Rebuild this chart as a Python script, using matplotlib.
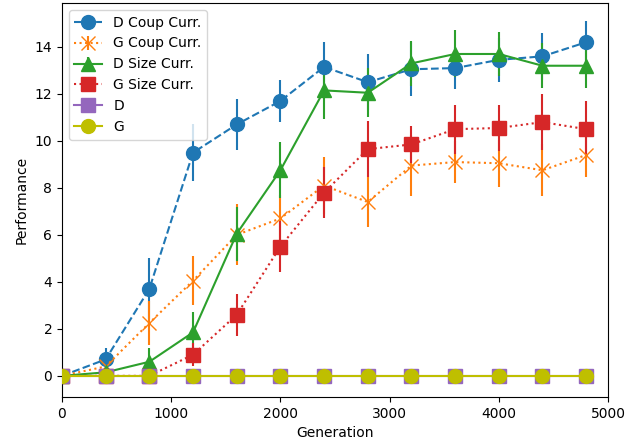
import matplotlib
matplotlib.use("Agg")
import matplotlib.pyplot as plt

generations = [0, 400, 800, 1200, 1600, 2000, 2400, 2800, 3200, 3600, 4000, 4400, 4800]

d_coup = [0.0, 0.7, 3.7, 9.5, 10.7, 11.7, 13.15, 12.5, 13.05, 13.1, 13.45, 13.6, 14.2]
d_coup_err = [0.1, 0.5, 1.3, 1.2, 1.1, 0.9, 1.05, 1.2, 1.15, 0.9, 0.95, 1.0, 0.9]

g_coup = [0.0, 0.4, 2.25, 4.05, 6.0, 6.7, 8.1, 7.4, 8.95, 9.1, 9.05, 8.75, 9.4]
g_coup_err = [0.1, 0.4, 0.95, 1.05, 1.3, 1.0, 1.2, 1.05, 1.3, 0.9, 1.0, 1.1, 0.95]

d_size = [0.0, 0.15, 0.6, 1.85, 6.05, 8.75, 12.15, 12.05, 13.3, 13.7, 13.7, 13.2, 13.2]
d_size_err = [0.05, 0.15, 0.6, 0.85, 1.15, 1.2, 1.2, 1.05, 0.95, 1.0, 0.95, 0.95, 0.95]

g_size = [0.0, 0.0, 0.0, 0.9, 2.6, 5.5, 7.8, 9.65, 9.85, 10.5, 10.55, 10.8, 10.5]
g_size_err = [0.0, 0.0, 0.0, 0.5, 0.9, 1.1, 1.1, 1.2, 0.8, 1.05, 1.0, 1.2, 1.2]

d_base = [0.0] * len(generations)
g_base = [0.0] * len(generations)

fig, ax = plt.subplots(figsize=(6.41, 4.42), dpi=100)
fig.subplots_adjust(left=0.0967, right=0.9485, bottom=0.1018, top=0.9932)

h1 = ax.errorbar(generations, d_coup, yerr=d_coup_err, color='C0', marker='o',
                 linestyle='--', markersize=10, label='D Coup Curr.')
h2 = ax.errorbar(generations, g_coup, yerr=g_coup_err, color='C1', marker='x',
                 linestyle=':', markersize=10, label='G Coup Curr.')
h3 = ax.errorbar(generations, d_size, yerr=d_size_err, color='C2', marker='^',
                 linestyle='-', markersize=10, label='D Size Curr.')
h4 = ax.errorbar(generations, g_size, yerr=g_size_err, color='C3', marker='s',
                 linestyle=':', markersize=10, label='G Size Curr.')
h5, = ax.plot(generations, d_base, color='C4', marker='s', linestyle='-',
              markersize=10, label='D', zorder=3)
h6, = ax.plot(generations, g_base, color='y', marker='o', linestyle='-',
              markersize=10, label='G', zorder=3)

ax.set_xlim(0, 5000)
ax.set_ylim(-0.9, 15.87)
ax.set_xlabel('Generation')
ax.set_ylabel('Performance')
ax.legend(handles=[h1, h2, h3, h4, h5, h6], loc='upper left')

fig.savefig('out.png', dpi=100)
